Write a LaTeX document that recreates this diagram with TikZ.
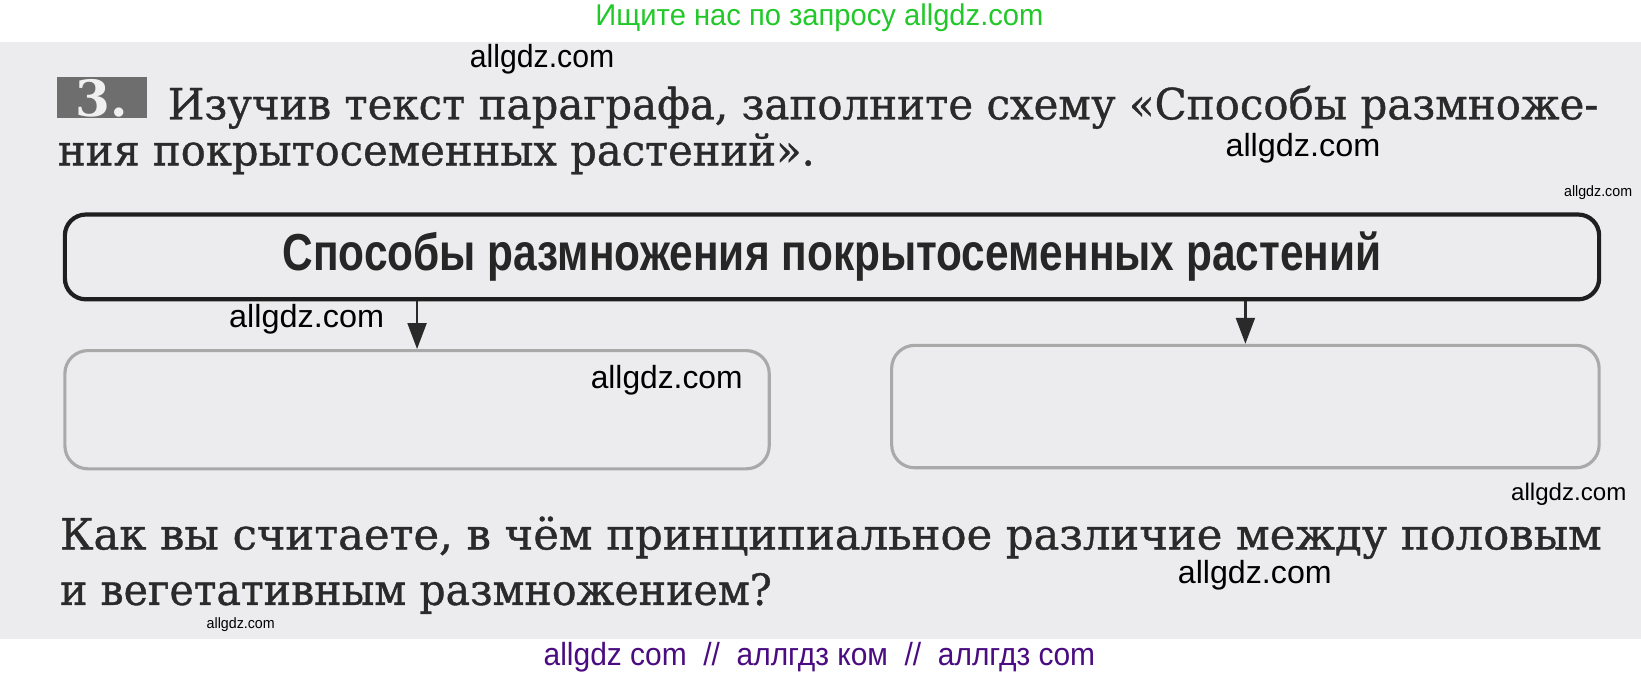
\documentclass[tikz,border=0pt]{standalone}
\usepackage{fontspec}
\usepackage{graphicx}
\setmainfont{DejaVu Serif}
\setsansfont{Liberation Sans}
\newfontfamily\schoolfont{DejaVu Serif}[FakeBold=0.9]
\newfontfamily\wmfont{Liberation Sans}
\usetikzlibrary{positioning,arrows.meta}
\newlength\pxu
\setlength\pxu{0.5233pt}
\newcommand\fitw[2]{\resizebox{#1\pxu}{\height}{#2}}
\definecolor{pagegray}{HTML}{ECECEE}
\definecolor{boxgray}{HTML}{A9A9A9}
\definecolor{numgray}{HTML}{6E6E6E}
\definecolor{inkgray}{HTML}{2A2A2A}
\definecolor{wmgreen}{HTML}{22C82A}
\definecolor{wmpurple}{HTML}{4A0C80}

\begin{document}
\begin{tikzpicture}[x=\pxu,y=-\pxu]
\tikzstyle{lien}=[-{Triangle[length=13pt,width=9.5pt]},line width=1.1pt,inkgray]
\tikzset{titre/.style={draw=black!88,line width=4\pxu,rounded corners=20\pxu,
  minimum width=1466\pxu,minimum height=81\pxu,inner sep=0pt},
case/.style={draw=boxgray,line width=3\pxu,rounded corners=22\pxu,inner sep=0pt},
texte/.style={anchor=base west,inner sep=0pt,text=inkgray,font=\schoolfont\fontsize{21.5}{26}\selectfont},
marque/.style={inner sep=0pt,text=black,font=\wmfont\fontsize{#1}{#1}\selectfont},
marque/.default={16}}
\useasboundingbox (0,0) rectangle (1568,650);
\fill[pagegray] (0,40) rectangle (1568,611);

% en-tete et pied
\node[marque=15,text=wmgreen] (haut) at (783,17) {\fitw{428}{Ищите нас по запросу allgdz.com}};
\node[marque=16,text=wmpurple] (bas) at (783,628) {\fitw{527}{allgdz com \ // \ аллгдз ком \ // \ аллгдз com}};

% consigne
\node[fill=numgray,minimum width=86\pxu,minimum height=39\pxu,inner sep=0pt,
  text=white!94!black,font=\bfseries\fontsize{25}{26}\selectfont] (num) at (97,93.5) {\raisebox{-0.5pt}{3.}};
\node[texte] (l1) at (160,114) {\fitw{1367}{Изучив текст параграфа, заполните схему «Способы размноже-}};
\node[texte] (l2) at (55,158) {\fitw{723}{ния покрытосеменных растений»{}.}};

% schema
\node[titre,font=\sffamily\bfseries\fontsize{26}{28}\selectfont,text=black!85] (A) at (795,245.5)
  {\fitw{1050}{Способы размножения покрытосеменных растений}};
\node[case,minimum width=673\pxu,minimum height=113\pxu] (A1) at (398.5,391.5) {};
\node[case,minimum width=676\pxu,minimum height=117\pxu] (A2) at (1190,388.5) {};

\draw[lien] (A.south -| A1.north) -- (A1.north);
\draw[lien] (A.south -| A2.north) -- (A2.north);

% question
\node[texte] (q1) at (57,525) {\fitw{1473}{Как вы считаете, в чём принципиальное различие между половым}};
\node[texte] (q2) at (57,578) {\fitw{680}{и вегетативным размножением?}};

% filigranes
\node[marque] (w1) at (518,57) {\fitw{138}{allgdz.com}};
\node[marque] (w2) at (1245,142) {\fitw{148}{allgdz.com}};
\node[marque=7.5] (w3) at (1527,184) {\fitw{65}{allgdz.com}};
\node[marque] (w4) at (293,305) {\fitw{148}{allgdz.com}};
\node[marque] (w5) at (637,363) {\fitw{145}{allgdz.com}};
\node[marque=12] (w6) at (1499,472) {\fitw{110}{allgdz.com}};
\node[marque] (w7) at (1199,550) {\fitw{147}{allgdz.com}};
\node[marque=7.5] (w8) at (230,597) {\fitw{65}{allgdz.com}};
\end{tikzpicture}
\end{document}
